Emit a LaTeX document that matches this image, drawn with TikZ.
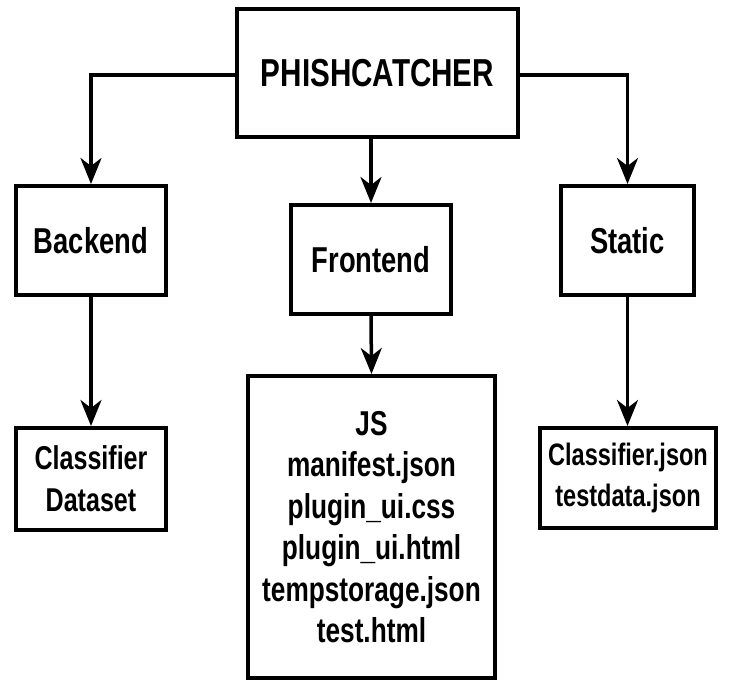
\documentclass[tikz,border=0pt]{standalone}
\usepackage{fontspec}
\setmainfont{Liberation Sans}[FakeStretch=0.76]
\usetikzlibrary{arrows.meta}
\tikzset{
  box/.style={draw=black, line width=4pt, fill=white, inner sep=0pt, align=center, font=\bfseries},
  conn/.style={line width=3.5pt, -{Stealth[length=26pt, width=21pt, inset=8pt]}},
}
\begin{document}
\begin{tikzpicture}[x=1pt, y=-1pt]
\useasboundingbox (0,0) rectangle (743,679);
\node[box, minimum width=281pt, minimum height=128pt, font=\bfseries\fontsize{39}{46}\selectfont] (top) at (377.5,73) {PHISHCATCHER};
\node[box, minimum width=150pt, minimum height=109pt, font=\bfseries\fontsize{36}{41}\selectfont] (back) at (91,240.5) {Backend};
\node[box, minimum width=160pt, minimum height=109pt, font=\bfseries\fontsize{36}{41}\selectfont] (front) at (371,259.5) {Frontend};
\node[box, minimum width=133pt, minimum height=109pt, font=\bfseries\fontsize{36}{41}\selectfont] (static) at (627.5,240.5) {Static};
\node[box, minimum width=150pt, minimum height=102pt, font=\bfseries\fontsize{33}{42}\selectfont] (cds) at (91,479) {Classifier\\Dataset};
\node[box, minimum width=176pt, minimum height=100pt, font=\bfseries\fontsize{31}{41}\selectfont] (cjson) at (628,478) {Classifier.json\\testdata.json};
\node[box, minimum width=247pt, minimum height=302pt, font=\bfseries\fontsize{34.5}{41.5}\selectfont] (js) at (371.5,527) {JS\\manifest.json\\plugin\_ui.css\\plugin\_ui.html\\tempstorage.json\\test.html};
\draw[conn] (top.west |- 0,75) -| (back.north);
\draw[conn] (top.east |- 0,75) -| (static.north);
\draw[conn] (top.south -| front.north) -- (front.north);
\draw[conn] (front.south) -- (js.north);
\draw[conn] (back.south) -- (cds.north);
\draw[conn] (static.south) -- (cjson.north -| static.south);
\end{tikzpicture}
\end{document}
